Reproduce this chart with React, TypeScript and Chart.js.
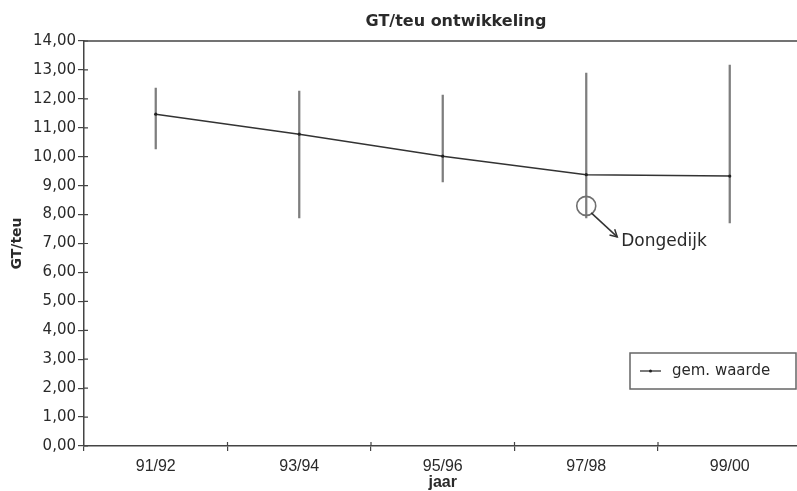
import React, { useEffect, useRef } from 'react';
import { Chart, registerables } from 'chart.js';

Chart.register(...registerables);

const chartTitle = 'GT/teu ontwikkeling';
const xTitle = 'jaar';
const yTitle = 'GT/teu';
const legendLabel = 'gem. waarde';
const annotationLabel = 'Dongedijk';

const categories = ['91/92', '93/94', '95/96', '97/98', '99/00'];
const meanValues = [11.47, 10.78, 10.02, 9.38, 9.33];
const highValues = [12.37, 12.27, 12.13, 12.89, 13.17];
const lowValues = [10.27, 7.88, 9.13, 7.88, 7.71];
const dongedijkValues = [null, null, null, 8.3, null];
const yTickLabels = [
  '0,00', '1,00', '2,00', '3,00', '4,00', '5,00', '6,00', '7,00',
  '8,00', '9,00', '10,00', '11,00', '12,00', '13,00', '14,00',
];

const AXIS = '#444444';
const TEXT = '#2a2a2a';

const decorPlugin = {
  id: 'decor',
  afterDraw(chart: any) {
    const ctx = chart.ctx as CanvasRenderingContext2D;
    const { left, right, top, bottom } = chart.chartArea;
    const x = chart.scales.x;
    const y = chart.scales.y;
    ctx.save();
    // title
    ctx.fillStyle = TEXT;
    ctx.font = 'bold 16px "DejaVu Sans"';
    ctx.textAlign = 'center';
    ctx.textBaseline = 'middle';
    ctx.fillText(chartTitle, 456, 22);
    // top frame line
    ctx.strokeStyle = AXIS;
    ctx.lineWidth = 1.5;
    ctx.beginPath();
    ctx.moveTo(left, top);
    ctx.lineTo(right, top);
    ctx.stroke();
    // inner tick parts
    ctx.lineWidth = 1.2;
    ctx.beginPath();
    for (let i = 0; i < yTickLabels.length; i++) {
      const py = y.getPixelForValue(i);
      ctx.moveTo(left, py);
      ctx.lineTo(left + 4, py);
    }
    for (let i = 1; i <= categories.length; i++) {
      const px = x.getPixelForValue(i - 0.5);
      ctx.moveTo(px, bottom);
      ctx.lineTo(px, bottom - 4);
    }
    ctx.stroke();
    // annotation arrow + text
    const ai = dongedijkValues.findIndex((v) => v !== null);
    if (ai >= 0) {
      const cx = x.getPixelForValue(ai);
      const cy = y.getPixelForValue(dongedijkValues[ai] as number);
      const sx = cx + 5;
      const sy = cy + 7;
      const ex = cx + 31;
      const ey = cy + 31;
      ctx.strokeStyle = '#333';
      ctx.lineWidth = 1.5;
      ctx.beginPath();
      ctx.moveTo(sx, sy);
      ctx.lineTo(ex, ey);
      ctx.stroke();
      const ang = Math.atan2(ey - sy, ex - sx);
      ctx.beginPath();
      ctx.moveTo(ex - 8 * Math.cos(ang - 0.5), ey - 8 * Math.sin(ang - 0.5));
      ctx.lineTo(ex, ey);
      ctx.lineTo(ex - 8 * Math.cos(ang + 0.5), ey - 8 * Math.sin(ang + 0.5));
      ctx.stroke();
      ctx.fillStyle = TEXT;
      ctx.font = '17px "DejaVu Sans"';
      ctx.textAlign = 'left';
      ctx.textBaseline = 'alphabetic';
      ctx.fillText(annotationLabel, ex + 4, ey + 9);
    }
    // legend box
    const bx = 630;
    const by = 353;
    const bw = 166;
    const bh = 36;
    ctx.strokeStyle = '#666';
    ctx.lineWidth = 1.5;
    ctx.strokeRect(bx, by, bw, bh);
    ctx.strokeStyle = '#333';
    ctx.lineWidth = 1.3;
    ctx.beginPath();
    ctx.moveTo(bx + 10, by + bh / 2);
    ctx.lineTo(bx + 31, by + bh / 2);
    ctx.stroke();
    ctx.fillStyle = '#222';
    ctx.beginPath();
    ctx.arc(bx + 20.5, by + bh / 2, 1.5, 0, Math.PI * 2);
    ctx.fill();
    ctx.fillStyle = TEXT;
    ctx.font = '15px "DejaVu Sans"';
    ctx.textAlign = 'left';
    ctx.textBaseline = 'middle';
    ctx.fillText(legendLabel, bx + 42, by + bh / 2);
    ctx.restore();
  },
};

export default function App() {
  const ref = useRef<HTMLCanvasElement>(null);
  useEffect(() => {
    const chart = new Chart(ref.current!, {
      type: 'bar',
      data: {
        labels: categories,
        datasets: [
          {
            type: 'line',
            label: legendLabel,
            data: meanValues,
            borderColor: '#333333',
            borderWidth: 1.5,
            pointRadius: 1.6,
            pointBackgroundColor: '#222',
            pointBorderWidth: 0,
            order: 0,
          } as any,
          {
            type: 'line',
            label: annotationLabel,
            data: dongedijkValues,
            showLine: false,
            pointRadius: 9.5,
            borderColor: '#707070',
            pointBorderColor: '#707070',
            pointBackgroundColor: 'rgba(0,0,0,0)',
            pointBorderWidth: 1.6,
            order: 1,
          } as any,
          {
            type: 'bar',
            label: 'range',
            data: categories.map((_, i) => [lowValues[i], highValues[i]]),
            backgroundColor: '#7e7e7e',
            barThickness: 1.6,
            order: 2,
          } as any,
        ],
      },
      options: {
        responsive: false,
        animation: false,
        layout: { padding: { left: 0, right: 18.5, top: 41, bottom: 0 } },
        plugins: {
          legend: { display: false },
          tooltip: { enabled: false },
          title: { display: false },
        },
        scales: {
          x: {
            type: 'category',
            offset: true,
            afterFit: (s: any) => {
              s.height = 45;
            },
            grid: {
              offset: true,
              drawOnChartArea: false,
              drawTicks: true,
              tickLength: 5,
              color: AXIS,
              lineWidth: 1.2,
            },
            border: { display: true, color: AXIS, width: 1.5 },
            ticks: {
              color: TEXT,
              padding: 6,
              font: { family: '"Liberation Sans Narrow", "Liberation Sans"', size: 16 },
            },
            title: {
              display: true,
              text: xTitle,
              color: TEXT,
              padding: { top: 0, bottom: 0 },
              font: { family: '"Liberation Sans Narrow", "Liberation Sans"', size: 16, weight: 'bold', lineHeight: 1 },
            },
          },
          y: {
            min: 0,
            max: 14,
            afterFit: (s: any) => {
              s.width = 84;
            },
            ticks: {
              stepSize: 1,
              color: TEXT,
              padding: 2,
              font: { family: '"DejaVu Sans"', size: 15 },
              callback: (v: any) => yTickLabels[Math.round(Number(v))] ?? '',
            },
            grid: {
              drawOnChartArea: false,
              drawTicks: true,
              tickLength: 6,
              color: AXIS,
              lineWidth: 1.2,
            },
            border: { display: true, color: AXIS, width: 1.5 },
            title: {
              display: true,
              text: yTitle,
              color: TEXT,
              padding: { top: 9, bottom: 0 },
              font: { family: '"DejaVu Sans"', size: 14, weight: 'bold', lineHeight: 1.2 },
            },
          },
        },
      },
      plugins: [decorPlugin],
    });
    return () => chart.destroy();
  }, []);
  return (
    <div
      style={{
        position: 'absolute',
        left: 0,
        top: 0,
        width: 797,
        height: 491,
        overflow: 'hidden',
        background: '#fff',
      }}
    >
      <canvas ref={ref} width={820} height={491} />
    </div>
  );
}
